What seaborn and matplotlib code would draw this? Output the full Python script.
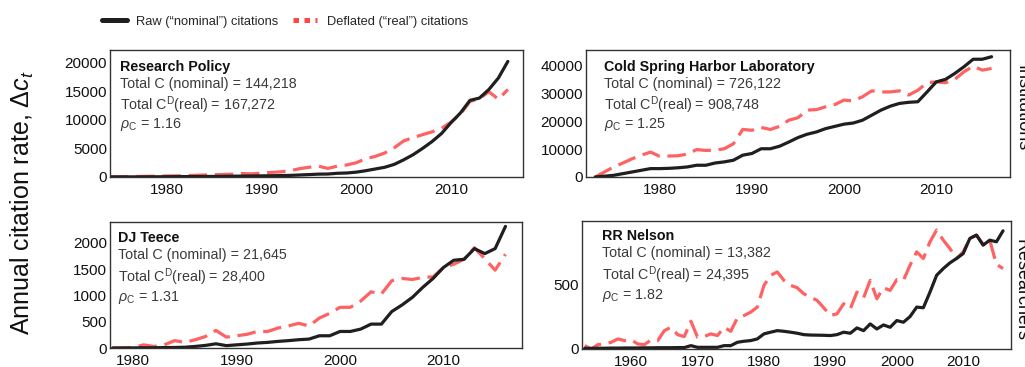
import numpy as np
import pandas as pd
import matplotlib
matplotlib.use("Agg")
import matplotlib.pyplot as plt
from matplotlib.ticker import MultipleLocator, AutoMinorLocator
from matplotlib.lines import Line2D
import seaborn as sns

# ---------------- data ----------------
rp_years = list(range(1974, 2017))
rp_nominal = [10, 15, 20, 25, 30, 40, 50, 60, 70, 80,
              90, 100, 120, 140, 160, 180, 200, 220, 250, 280,
              350, 420, 500, 520, 650, 700, 850, 1100, 1400, 1700,
              2200, 3000, 3900, 5000, 6200, 7600, 9500, 11200, 13400, 13800,
              15300, 17300, 20200]
rp_real = [50, 60, 80, 100, 120, 150, 180, 200, 250, 300,
           350, 400, 450, 500, 600, 550, 700, 800, 900, 1100,
           1450, 1700, 1900, 1500, 1900, 2100, 2500, 3200, 3600, 4200,
           5100, 6300, 6900, 7400, 7900, 8500, 9600, 11000, 13200, 13700,
           14900, 13600, 15300]

cs_years = list(range(1973, 2017))
cs_nominal = [0, 300, 600, 1200, 1800, 2400, 3000, 3000, 3100, 3300,
              3600, 4200, 4200, 5000, 5400, 6000, 7800, 8400, 10100, 10100,
              11000, 12500, 14100, 15300, 16100, 17300, 18100, 18900, 19300, 20300,
              22100, 23900, 25300, 26300, 26700, 26900, 30400, 34000, 34900, 37000,
              39400, 42100, 42100, 43000]
cs_real = [0, 1800, 3600, 5000, 6500, 7800, 8900, 7400, 7500, 7600,
           8200, 9800, 9500, 9600, 10100, 11900, 17000, 16700, 17700, 17000,
           18100, 20300, 21200, 23900, 24100, 25100, 25900, 27500, 27200, 28700,
           30800, 30400, 30400, 30800, 29300, 31000, 33700, 34000, 33700, 34900,
           37600, 39600, 38200, 38800]

dj_years = list(range(1978, 2017))
dj_nominal = [0, 0, 2, 5, 5, 8, 10, 15, 30, 50,
              80, 45, 60, 75, 95, 107, 126, 140, 158, 170,
              233, 233, 315, 315, 360, 455, 455, 694, 820, 965,
              1155, 1325, 1533, 1672, 1690, 1893, 1798, 1893, 2316]
dj_real = [0, 5, 10, 60, 30, 60, 140, 107, 158, 220,
           335, 208, 233, 260, 315, 315, 380, 420, 470, 420,
           570, 660, 775, 775, 895, 1070, 1030, 1280, 1325, 1305,
           1345, 1355, 1533, 1596, 1690, 1910, 1700, 1483, 1785]

rn_years = list(range(1953, 2017))
rn_nominal = [5, 5, 6, 6, 7, 7, 8, 8, 8, 9,
              9, 10, 10, 10, 11, 11, 26, 13, 13, 13,
              13, 26, 26, 52, 60, 65, 78, 117, 130, 142,
              137, 130, 122, 111, 108, 107, 106, 104, 111, 130,
              122, 163, 142, 194, 155, 186, 168, 220, 207, 251,
              324, 319, 440, 570, 622, 666, 700, 738, 855, 881,
              803, 842, 829, 914]
rn_real = [26, 0, 34, 39, 52, 78, 65, 70, 39, 34,
           70, 65, 142, 168, 111, 96, 215, 91, 96, 117,
           104, 168, 137, 241, 259, 285, 324, 492, 570, 596,
           531, 492, 474, 427, 401, 376, 319, 259, 272, 350,
           311, 440, 396, 531, 389, 474, 453, 536, 531, 648,
           751, 700, 829, 920, 842, 777, 700, 751, 855, 881,
           811, 842, 655, 622]

panel_titles = ["Research Policy", "Cold Spring Harbor Laboratory", "DJ Teece", "RR Nelson"]
total_nominal = ["144,218", "726,122", "21,645", "13,382"]
total_real = ["167,272", "908,748", "28,400", "24,395"]
rho = ["1.16", "1.25", "1.31", "1.82"]
row_labels = ["Institutions", "Researchers"]
legend_labels = ["Raw (\u201cnominal\u201d) citations", "Deflated (\u201creal\u201d) citations"]

# ---------------- style ----------------
sns.set_style("white")
plt.rcParams["font.family"] = ["Liberation Sans", "DejaVu Sans"]
plt.rcParams["mathtext.fontset"] = "custom"
plt.rcParams["mathtext.rm"] = "Liberation Sans"
plt.rcParams["mathtext.it"] = "Liberation Sans:italic"

BLACK = "#1f1f1f"
RED = "#ff4646"
TXT = "#3a3a3a"

fig = plt.figure(figsize=(10.25, 3.67), dpi=100)
W, H = 1025, 367

def add_ax(left, right, top, bottom):
    return fig.add_axes([left / W, 1 - bottom / H, (right - left) / W, (bottom - top) / H])

axes = [add_ax(110, 523, 50, 177), add_ax(586, 1010, 50, 177),
        add_ax(110, 522, 222, 348), add_ax(582, 1011, 221, 349)]

series = [(rp_years, rp_nominal, rp_real), (cs_years, cs_nominal, cs_real),
          (dj_years, dj_nominal, dj_real), (rn_years, rn_nominal, rn_real)]
xlims = [(1974, 2017.6), (1972, 2018), (1977.75, 2017.6), (1952.6, 2017.2)]
ylims = [(0, 22200), (0, 45400), (0, 2400), (0, 990)]
ymajor = [5000, 10000, 500, 500]
yminor = [1000, 2000, 100, 100]
text_x = [0.024, 0.042, 0.02, 0.047]
text_y = [(0.866, 0.73, 0.567, 0.41), (0.866, 0.73, 0.567, 0.41),
          (0.873, 0.738, 0.563, 0.397), (0.88, 0.75, 0.58, 0.42)]

for i, ax in enumerate(axes):
    yrs, nom, real = series[i]
    df = pd.DataFrame({"year": yrs, "nominal": nom, "real": real})
    sns.lineplot(data=df, x="year", y="real", ax=ax, color=RED, alpha=0.85,
                 linewidth=2.3, linestyle=(0, (5.8, 2.4)))
    sns.lineplot(data=df, x="year", y="nominal", ax=ax, color=BLACK,
                 linewidth=2.3)
    ax.set_xlim(*xlims[i])
    ax.set_ylim(*ylims[i])
    ax.set_xlabel("")
    ax.set_ylabel("")
    ax.xaxis.set_major_locator(MultipleLocator(10))
    if i == 1:
        ax.xaxis.set_minor_locator(MultipleLocator(2, offset=1))
    elif i == 3:
        ax.xaxis.set_minor_locator(AutoMinorLocator(3))
    else:
        ax.xaxis.set_minor_locator(MultipleLocator(2))
    ax.yaxis.set_major_locator(MultipleLocator(ymajor[i]))
    ax.yaxis.set_minor_locator(MultipleLocator(yminor[i]))
    ax.tick_params(which="both", direction="in", top=False, right=False,
                   colors="#333333", labelcolor="#111111", labelsize=11)
    ax.tick_params(which="major", length=6, width=1)
    ax.tick_params(which="minor", length=3, width=0.8)
    ax.tick_params(axis="x", pad=4)
    ax.tick_params(axis="y", pad=2)
    for s in ax.spines.values():
        s.set_color("#333333")
        s.set_linewidth(1.0)
    ty = text_y[i]
    fs = 10.3
    ax.text(text_x[i], ty[0], panel_titles[i], transform=ax.transAxes,
            fontsize=fs, fontweight="bold", color="#111111", va="center", ha="left")
    ax.text(text_x[i], ty[1], f"Total C (nominal) = {total_nominal[i]}",
            transform=ax.transAxes, fontsize=fs, color=TXT, va="center", ha="left")
    ax.text(text_x[i], ty[2], r"Total C$^{\mathrm{D}}$(real) = " + total_real[i],
            transform=ax.transAxes, fontsize=fs, color=TXT, va="center", ha="left")
    ax.text(text_x[i], ty[3], r"$\mathit{\rho}_{\mathrm{C}}$ = " + rho[i],
            transform=ax.transAxes, fontsize=fs, color=TXT, va="center", ha="left")

# y label
fig.text(22 / W, 1 - 203 / H, r"Annual citation rate, $\mathit{\Delta c_t}$",
         rotation=90, ha="center", va="center", fontsize=18, color="#111111")

# row labels on right (partially cut off, as in the reference)
fig.text(1013 / W, 1 - 108 / H, row_labels[0], rotation=270, ha="left",
         va="center", fontsize=13, color="#111111")
fig.text(1013 / W, 1 - 290 / H, row_labels[1], rotation=270, ha="left",
         va="center", fontsize=13, color="#111111")

# legend
handles = [Line2D([], [], color=BLACK, linewidth=3.6),
           Line2D([], [], color=RED, linewidth=3.6, linestyle=(0, (1.1, 1.1)))]
fig.legend(handles, legend_labels, loc="center", bbox_to_anchor=(285 / W, 1 - 22 / H),
           ncol=2, frameon=False, handlelength=1.9, borderpad=0,
           handletextpad=0.75, columnspacing=1.1,
           prop={"family": ["Liberation Sans", "DejaVu Sans"], "size": 9.3})

fig.savefig("out.png", dpi=100, facecolor="white")
